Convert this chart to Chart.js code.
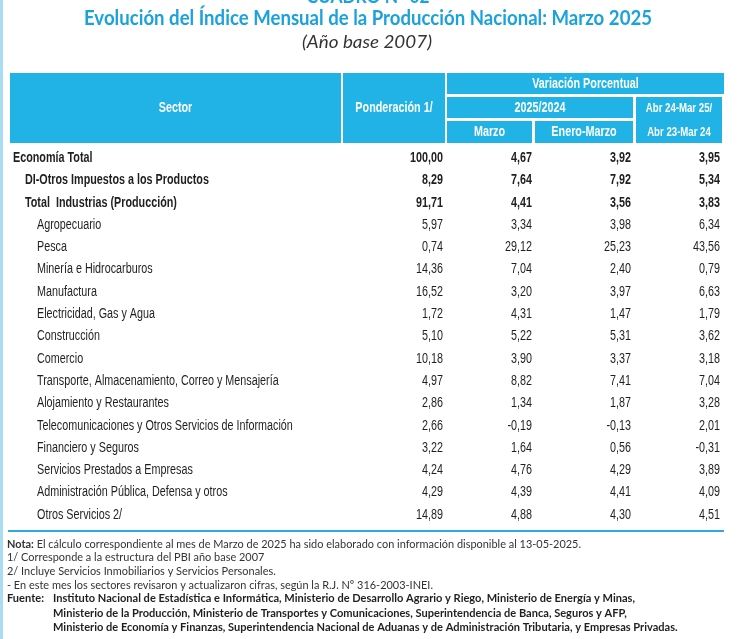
<!DOCTYPE html>
<html>
<head>
<meta charset="utf-8">
<script src="https://cdn.jsdelivr.net/npm/chart.js@4.4.1/dist/chart.umd.min.js"></script>
<style>
  html, body { margin: 0; padding: 0; background: #fff; }
  #cuadro { display: block; }
</style>
</head>
<body>
<canvas id="cuadro" width="737" height="639"></canvas>
<script>
// ---- datos del cuadro ----
const sectores = [
  'Economía Total',
  'DI-Otros Impuestos a los Productos',
  'Total  Industrias (Producción)',
  'Agropecuario',
  'Pesca',
  'Minería e Hidrocarburos',
  'Manufactura',
  'Electricidad, Gas y Agua',
  'Construcción',
  'Comercio',
  'Transporte, Almacenamiento, Correo y Mensajería',
  'Alojamiento y Restaurantes',
  'Telecomunicaciones y Otros Servicios de Información',
  'Financiero y Seguros',
  'Servicios Prestados a Empresas',
  'Administración Pública, Defensa y otros',
  'Otros Servicios 2/'
]
// 0 = total, 1 = subtotal, 2 = sector
const nivel = [0, 1, 1, 2, 2, 2, 2, 2, 2, 2, 2, 2, 2, 2, 2, 2, 2]

const ponderacion   = [100.00, 8.29, 91.71, 5.97, 0.74, 14.36, 16.52, 1.72, 5.10, 10.18, 4.97, 2.86, 2.66, 3.22, 4.24, 4.29, 14.89]
const varMarzo      = [4.67, 7.64, 4.41, 3.34, 29.12, 7.04, 3.20, 4.31, 5.22, 3.90, 8.82, 1.34, -0.19, 1.64, 4.76, 4.39, 4.88]
const varEneroMarzo = [3.92, 7.92, 3.56, 3.98, 25.23, 2.40, 3.97, 1.47, 5.31, 3.37, 7.41, 1.87, -0.13, 0.56, 4.29, 4.41, 4.30]
const varAnual      = [3.95, 5.34, 3.83, 6.34, 43.56, 0.79, 6.63, 1.79, 3.62, 3.18, 7.04, 3.28, 2.01, -0.31, 3.89, 4.09, 4.51]

const tituloCuadro = 'CUADRO N° 02'
const titulo = 'Evolución del Índice Mensual de la Producción Nacional: Marzo 2025'
const subtitulo = '(Año base 2007)'

const encSector = 'Sector'
const encPonderacion = 'Ponderación 1/'
const encVariacion = 'Variación Porcentual'
const encPeriodo = '2025/2024'
const encMarzo = 'Marzo'
const encEneroMarzo = 'Enero-Marzo'
const encAnual = ['Abr 24-Mar 25/', 'Abr 23-Mar 24']

const nota = ['Nota:', ' El cálculo correspondiente al mes de Marzo de 2025 ha sido elaborado con información disponible al 13-05-2025.']
const notas = [
  '1/ Corresponde a la estructura del PBI año base 2007',
  '2/ Incluye Servicios Inmobiliarios y Servicios Personales.',
  '- En este mes los sectores revisaron y actualizaron cifras, según la R.J. Nº 316-2003-INEI.'
]
const fuente = [
  'Instituto Nacional de Estadística e Informática, Ministerio de Desarrollo Agrario y Riego, Ministerio de Energía y Minas,',
  'Ministerio de la Producción, Ministerio de Transportes y Comunicaciones, Superintendencia de Banca, Seguros y AFP,',
  'Ministerio de Economía y Finanzas, Superintendencia Nacional de Aduanas y de Administración Tributaria, y Empresas Privadas.'
]

// ---- estilo ----
const AZUL = '#21b3e6'
const AZUL_TITULO = '#1ba2dd'
const TEXTO = '#1f1f1f'
const GRIS = '#333333'
const ARIAL = '"Liberation Sans", Arial, sans-serif'
const CALIBRI = 'Lato, "Open Sans", sans-serif'
const NARROW = 0.77   // Arial Narrow ~ Arial comprimida

// columnas numéricas: borde derecho (en px de tabla) donde se alinea cada cifra
const series = [ponderacion, varMarzo, varEneroMarzo, varAnual]
const anclas = [443, 532, 631, 720]

const fmt = v => v.toFixed(2).replace('.', ',')

function texto (ctx, str, x, y, font, color, align, sx, baseline) {
  ctx.save()
  ctx.font = font
  ctx.fillStyle = color
  ctx.textAlign = align || 'left'
  ctx.textBaseline = baseline || 'middle'
  ctx.translate(x, y)
  ctx.scale(sx || 1, 1)
  ctx.fillText(str, 0, 0)
  ctx.restore()
}

// escala horizontal para que un texto ocupe el ancho dado
function ajuste (ctx, font, str, ancho) {
  ctx.save()
  ctx.font = font
  const w = ctx.measureText(str).width
  ctx.restore()
  return ancho / w
}

const tablaPlugin = {
  id: 'tabla',
  beforeDraw (chart) {
    const ctx = chart.ctx
    const x = chart.scales.x
    const px = v => x.getPixelForValue(v)
    ctx.save()
    ctx.fillStyle = '#fff'
    ctx.fillRect(0, 0, chart.width, chart.height)
    // franja izquierda
    ctx.fillStyle = '#a9ddf1'
    ctx.fillRect(0, 0, 3, chart.height)

    // títulos
    const fT = 'bold 21px ' + CALIBRI
    texto(ctx, tituloCuadro, 368, 2.5, 'bold 19px ' + CALIBRI, AZUL_TITULO, 'center',
      ajuste(ctx, 'bold 19px ' + CALIBRI, tituloCuadro, 123), 'alphabetic')
    texto(ctx, titulo, 368, 18, fT, AZUL_TITULO, 'center', ajuste(ctx, fT, titulo, 568))
    const fS = 'italic 17px ' + CALIBRI
    texto(ctx, subtitulo, 367, 43, fS, GRIS, 'center', ajuste(ctx, fS, subtitulo, 130))

    // encabezado
    const celdas = [
      [10, 341, 73, 143], [343, 445, 73, 143], [447, 724, 73, 94],
      [447, 633, 97, 118], [636, 722, 97, 143], [447, 532, 121, 143], [535, 633, 121, 143]
    ]
    ctx.fillStyle = AZUL
    celdas.forEach(c => ctx.fillRect(px(c[0]), c[2], px(c[1]) - px(c[0]), c[3] - c[2]))

    const fH = 'bold 14px ' + ARIAL
    const fH2 = 'bold 12.5px ' + ARIAL
    texto(ctx, encSector, (px(10) + px(341)) / 2, 108, fH, '#fff', 'center', NARROW)
    texto(ctx, encPonderacion, (px(343) + px(445)) / 2, 108, fH, '#fff', 'center', NARROW)
    texto(ctx, encVariacion, (px(447) + px(724)) / 2, 84, fH, '#fff', 'center', NARROW)
    texto(ctx, encPeriodo, (px(447) + px(633)) / 2, 108, fH, '#fff', 'center', NARROW)
    texto(ctx, encMarzo, (px(447) + px(532)) / 2, 132.5, fH, '#fff', 'center', NARROW)
    texto(ctx, encEneroMarzo, (px(535) + px(633)) / 2, 132.5, fH, '#fff', 'center', NARROW)
    texto(ctx, encAnual[0], (px(636) + px(722)) / 2, 108.5, fH2, '#fff', 'center', NARROW)
    texto(ctx, encAnual[1], (px(636) + px(722)) / 2, 133, fH2, '#fff', 'center', NARROW)

    // línea inferior
    ctx.fillStyle = '#2eaae0'
    ctx.fillRect(px(8), 530, px(724) - px(8), 2)
    ctx.restore()
  },
  afterDatasetsDraw (chart) {
    const ctx = chart.ctx
    const x = chart.scales.x
    const y = chart.scales.y
    const fN = '14px ' + ARIAL
    const fB = 'bold 14px ' + ARIAL

    sectores.forEach((s, i) => {
      texto(ctx, s, x.getPixelForValue(13 + nivel[i] * 12), y.getPixelForValue(i) + 1,
        nivel[i] < 2 ? fB : fN, TEXTO, 'left', NARROW)
    })

    chart.data.datasets.forEach((ds, d) => {
      chart.getDatasetMeta(d).data.forEach((pt, i) => {
        texto(ctx, fmt(ds.data[i].v), pt.x, pt.y + 1, nivel[i] < 2 ? fB : fN, TEXTO, 'right', NARROW)
      })
    })

    // notas y fuente
    const fR = '12px ' + CALIBRI
    const fBold = 'bold 12px ' + CALIBRI
    ctx.save()
    ctx.font = fBold
    const wNota = ctx.measureText(nota[0]).width
    ctx.font = fR
    const wResto = ctx.measureText(nota[1]).width
    ctx.restore()
    const sx = 574 / (wNota + wResto)
    texto(ctx, nota[0], 7, 544, fBold, GRIS, 'left', sx)
    texto(ctx, nota[1], 7 + wNota * sx, 544, fR, GRIS, 'left', sx)
    notas.forEach((t, k) => texto(ctx, t, 7, 557.5 + k * 13.8, fR, GRIS, 'left', sx))
    const sxF = ajuste(ctx, fBold, fuente[0], 582)
    texto(ctx, 'Fuente:', 7, 598.5, fBold, TEXTO, 'left', sxF)
    fuente.forEach((t, k) => texto(ctx, t, 53, 598.5 + k * 14.5, fBold, TEXTO, 'left', sxF))
  }
}

new Chart(document.getElementById('cuadro'), {
  type: 'line',
  data: {
    datasets: series.map((vals, c) => ({
      data: vals.map((v, i) => ({ x: anclas[c], y: i, v })),
      showLine: false,
      pointRadius: 0,
      pointHoverRadius: 0
    }))
  },
  options: {
    responsive: false,
    animation: false,
    events: [],
    layout: { padding: { top: 146, bottom: 114, left: 10, right: 13 } },
    scales: {
      x: { type: 'linear', min: 10, max: 724, display: false },
      y: { type: 'category', labels: sectores, offset: true, display: false }
    },
    plugins: {
      legend: { display: false },
      tooltip: { enabled: false }
    }
  },
  plugins: [tablaPlugin]
})
</script>
</body>
</html>
